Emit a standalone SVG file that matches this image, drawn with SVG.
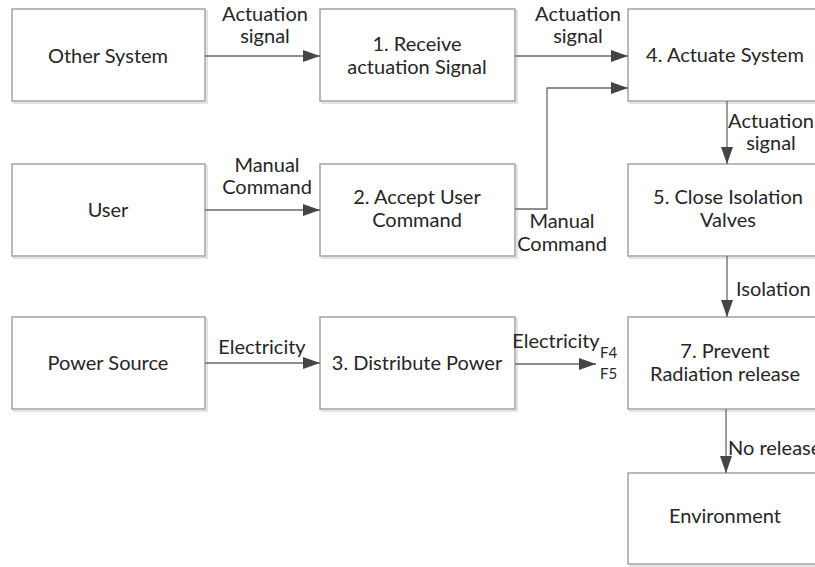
<svg xmlns="http://www.w3.org/2000/svg" width="815" height="567" viewBox="0 0 815 567">
  <style>
    .box { fill: #ffffff; stroke: #a3a3a3; stroke-width: 1.5; }
    .shadow { fill: none; stroke: #e4e4e4; stroke-width: 2; }
    .t { font-family: Lato, "Open Sans", "DejaVu Sans", sans-serif; font-size: 20px; fill: #262626; text-anchor: middle; }
    .l { font-family: Lato, "Open Sans", "DejaVu Sans", sans-serif; font-size: 20px; fill: #262626; text-anchor: middle; }
    .ls { text-anchor: start; }
    .sm { font-family: Lato, "Open Sans", "DejaVu Sans", sans-serif; font-size: 15px; fill: #262626; }
    .c { fill: none; stroke: #6a6a6a; stroke-width: 1.3; }
  </style>
  <defs>
    <marker id="arrow" viewBox="0 0 17 12" refX="17" refY="6" markerWidth="17" markerHeight="12" markerUnits="userSpaceOnUse" orient="auto">
      <path d="M0,0 L17,6 L0,12 Z" fill="#454545"/>
    </marker>
  </defs>

  <rect width="815" height="567" fill="#ffffff"/>

  <!-- nodes -->
  <g id="other-system">
    <rect class="shadow" x="14" y="11" width="193" height="92"/>
    <rect class="box" x="12" y="9" width="193" height="92"/>
    <text class="t" x="108" y="63">Other System</text>
  </g>
  <g id="receive-signal">
    <rect class="shadow" x="322" y="11" width="195" height="92"/>
    <rect class="box" x="320" y="9" width="195" height="92"/>
    <text class="t" x="417" y="51">1. Receive</text>
    <text class="t" x="417" y="74">actuation Signal</text>
  </g>
  <g id="actuate-system">
    <rect class="shadow" x="630" y="11" width="195" height="92"/>
    <rect class="box" x="628" y="9" width="195" height="92"/>
    <text class="t" x="725" y="62">4. Actuate System</text>
  </g>
  <g id="user">
    <rect class="shadow" x="14" y="166" width="193" height="92"/>
    <rect class="box" x="12" y="164" width="193" height="92"/>
    <text class="t" x="108" y="217">User</text>
  </g>
  <g id="accept-command">
    <rect class="shadow" x="322" y="166" width="195" height="92"/>
    <rect class="box" x="320" y="164" width="195" height="92"/>
    <text class="t" x="417" y="204">2. Accept User</text>
    <text class="t" x="417" y="227">Command</text>
  </g>
  <g id="close-valves">
    <rect class="shadow" x="630" y="166" width="195" height="92"/>
    <rect class="box" x="628" y="164" width="195" height="92"/>
    <text class="t" x="728" y="204">5. Close Isolation</text>
    <text class="t" x="728" y="227">Valves</text>
  </g>
  <g id="power-source">
    <rect class="shadow" x="14" y="319" width="193" height="92"/>
    <rect class="box" x="12" y="317" width="193" height="92"/>
    <text class="t" x="108" y="370">Power Source</text>
  </g>
  <g id="distribute-power">
    <rect class="shadow" x="322" y="319" width="195" height="92"/>
    <rect class="box" x="320" y="317" width="195" height="92"/>
    <text class="t" x="417" y="370">3. Distribute Power</text>
  </g>
  <g id="prevent-release">
    <rect class="shadow" x="630" y="319" width="195" height="92"/>
    <rect class="box" x="628" y="317" width="195" height="92"/>
    <text class="t" x="725" y="358">7. Prevent</text>
    <text class="t" x="725" y="381">Radiation release</text>
  </g>
  <g id="environment">
    <rect class="shadow" x="630" y="475" width="195" height="91"/>
    <rect class="box" x="628" y="473" width="195" height="91"/>
    <text class="t" x="725" y="523">Environment</text>
  </g>

  <!-- connectors and their labels -->
  <g id="connectors">
    <path class="c" d="M205,56 H320" marker-end="url(#arrow)"/>
    <path class="c" d="M515,56 H628" marker-end="url(#arrow)"/>
    <path class="c" d="M205,210 H320" marker-end="url(#arrow)"/>
    <path class="c" d="M515,209 H547 V88 H628" marker-end="url(#arrow)"/>
    <path class="c" d="M205,363 H320" marker-end="url(#arrow)"/>
    <path class="c" d="M515,364 H596" marker-end="url(#arrow)"/>
    <path class="c" d="M727,101 V164" marker-end="url(#arrow)"/>
    <path class="c" d="M727,256 V317" marker-end="url(#arrow)"/>
    <path class="c" d="M726,409 V473" marker-end="url(#arrow)"/>

    <text class="l" x="265" y="21">Actuation</text>
    <text class="l" x="265" y="43">signal</text>
    <text class="l" x="578" y="21">Actuation</text>
    <text class="l" x="578" y="43">signal</text>
    <text class="l" x="771" y="128">Actuation</text>
    <text class="l" x="771" y="150">signal</text>
    <text class="l" x="267" y="172">Manual</text>
    <text class="l" x="267" y="194">Command</text>
    <text class="l" x="562" y="228">Manual</text>
    <text class="l" x="562" y="251">Command</text>
    <text class="l" x="262" y="354">Electricity</text>
    <text class="l" x="556" y="348">Electricity</text>
    <text class="sm" x="600" y="358">F4</text>
    <text class="sm" x="600" y="379">F5</text>
    <text class="l ls" x="736" y="296">Isolation</text>
    <text class="l ls" x="728" y="455">No release</text>
  </g>
</svg>
